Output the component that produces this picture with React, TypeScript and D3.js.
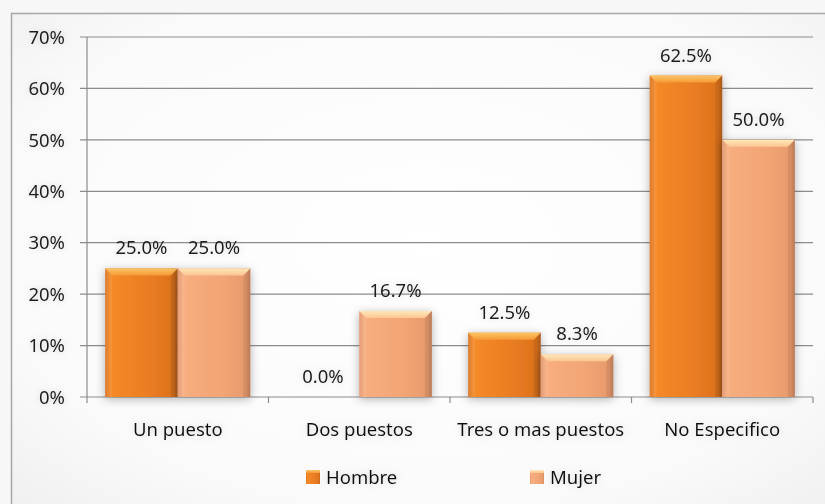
import React from "react";
import * as d3 from "d3";

const categories = ["Un puesto", "Dos puestos", "Tres o mas puestos", "No Especifico"];
const hombre = [25.0, 0.0, 12.5, 62.5];
const mujer = [25.0, 16.7, 8.3, 50.0];
const seriesNames = ["Hombre", "Mujer"];
const yTicks = [0, 10, 20, 30, 40, 50, 60, 70];

const W = 825;
const H = 504;
const FONT = "'Noto Sans', 'Open Sans', sans-serif";

export default function App() {
  const x0 = d3.scaleBand<string>().domain(categories).range([87, 813]).paddingInner(0).paddingOuter(0);
  const inner = d3.scaleBand<string>().domain(seriesNames).range([0, x0.bandwidth()]).paddingInner(0).paddingOuter(0.25);
  const y = d3.scaleLinear().domain([0, 70]).range([397, 37]);

  const series = [
    { name: "Hombre", values: hombre, grad: "gH", top: "tH" },
    { name: "Mujer", values: mujer, grad: "gM", top: "tM" },
  ];

  const bevel = 7;

  return (
    <svg width={W} height={H} style={{ position: "absolute", left: 0, top: 0 }} fontFamily={FONT}>
      <defs>
        <radialGradient id="bg" cx="0.5" cy="0.45" r="0.75">
          <stop offset="0" stopColor="#ffffff" />
          <stop offset="0.7" stopColor="#fafafa" />
          <stop offset="1" stopColor="#eeeeee" />
        </radialGradient>
        <linearGradient id="gH" x1="0" x2="1" y1="0" y2="0">
          <stop offset="0" stopColor="#d9701c" />
          <stop offset="0.08" stopColor="#f58a28" />
          <stop offset="0.6" stopColor="#ea7d22" />
          <stop offset="0.94" stopColor="#dc721d" />
          <stop offset="1" stopColor="#b8601c" />
        </linearGradient>
        <linearGradient id="gM" x1="0" x2="1" y1="0" y2="0">
          <stop offset="0" stopColor="#e2946a" />
          <stop offset="0.08" stopColor="#f8ae80" />
          <stop offset="0.6" stopColor="#f2a575" />
          <stop offset="0.94" stopColor="#e89a6c" />
          <stop offset="1" stopColor="#c9845f" />
        </linearGradient>
        <linearGradient id="tH" x1="0" x2="0" y1="0" y2="1">
          <stop offset="0" stopColor="#fcc467" />
          <stop offset="1" stopColor="#f59a35" />
        </linearGradient>
        <linearGradient id="tM" x1="0" x2="0" y1="0" y2="1">
          <stop offset="0" stopColor="#ffe7b8" />
          <stop offset="1" stopColor="#fbc592" />
        </linearGradient>
        <filter id="shadow" x="-30%" y="-30%" width="160%" height="160%">
          <feDropShadow dx="0" dy="2" stdDeviation="5" floodColor="#000" floodOpacity="0.3" />
        </filter>
        <filter id="tshadow" x="-30%" y="-50%" width="160%" height="200%">
          <feDropShadow dx="0" dy="0" stdDeviation="3" floodColor="#888" floodOpacity="0.35" />
        </filter>
      </defs>

      <rect x={0} y={0} width={W} height={H} fill="#f7f7f7" />
      <rect x={11.5} y={13.5} width={830} height={510} fill="url(#bg)" stroke="#a6a6a6" strokeWidth={1.5} />

      {yTicks.map((t) => (
        <line key={"g" + t} x1={80} x2={813} y1={y(t)} y2={y(t)} stroke="#8c8c8c" strokeWidth={1.2} />
      ))}
      <line x1={87} x2={87} y1={y(70)} y2={y(0)} stroke="#8c8c8c" strokeWidth={1.2} />
      {categories.map((c) => (
        <line key={"xt" + c} x1={x0(c)!} x2={x0(c)!} y1={y(0)} y2={y(0) + 6} stroke="#8c8c8c" strokeWidth={1.2} />
      ))}
      <line x1={813} x2={813} y1={y(0)} y2={y(0) + 6} stroke="#8c8c8c" strokeWidth={1.2} />

      {yTicks.map((t) => (
        <text key={"yl" + t} x={65} y={y(t)} dy="0.36em" textAnchor="end" fontSize={18.5} fill="#1a1a1a" filter="url(#tshadow)">
          {t + "%"}
        </text>
      ))}

      {categories.map((c, i) => (
        <g key={"c" + c}>
          {series.map((s) => {
            const v = s.values[i];
            if (v <= 0) return null;
            const bx = x0(c)! + inner(s.name)!;
            const bw = inner.bandwidth();
            const by = y(v);
            const bh = y(0) - by;
            const b = Math.min(bevel, bh / 2);
            return (
              <g key={s.name}>
                <rect x={bx} y={by} width={bw} height={bh} fill={`url(#${s.grad})`} filter="url(#shadow)" />
                <polygon
                  points={`${bx},${by} ${bx + bw},${by} ${bx + bw - b},${by + b} ${bx + b},${by + b}`}
                  fill={`url(#${s.top})`}
                />
                <polygon
                  points={`${bx},${by} ${bx + b},${by + b} ${bx + b},${y(0)} ${bx},${y(0)}`}
                  fill="#ffffff"
                  opacity={0.08}
                />
                <polygon
                  points={`${bx + bw},${by} ${bx + bw - b},${by + b} ${bx + bw - b},${y(0)} ${bx + bw},${y(0)}`}
                  fill="#000"
                  opacity={0.08}
                />
              </g>
            );
          })}
        </g>
      ))}

      {categories.map((c, i) =>
        series.map((s) => {
          const v = s.values[i];
          const cx = x0(c)! + inner(s.name)! + inner.bandwidth() / 2;
          return (
            <text key={"vl" + c + s.name} x={cx} y={y(v) - 14} textAnchor="middle" fontSize={18.5} fill="#1a1a1a" filter="url(#tshadow)">
              {v.toFixed(1) + "%"}
            </text>
          );
        })
      )}

      {categories.map((c) => (
        <text key={"cl" + c} x={x0(c)! + x0.bandwidth() / 2} y={436} textAnchor="middle" fontSize={18.5} fill="#111" filter="url(#tshadow)">
          {c}
        </text>
      ))}

      {series.map((s, i) => {
        const lx = [306, 530][i];
        return (
          <g key={"lg" + s.name}>
            <rect x={lx} y={470} width={14} height={14} fill={`url(#${s.grad})`} />
            <rect x={lx} y={470} width={14} height={3} fill={`url(#${s.top})`} />
            <text x={lx + 20} y={477} dy="0.36em" fontSize={18.5} fill="#111" filter="url(#tshadow)">
              {s.name}
            </text>
          </g>
        );
      })}
    </svg>
  );
}
